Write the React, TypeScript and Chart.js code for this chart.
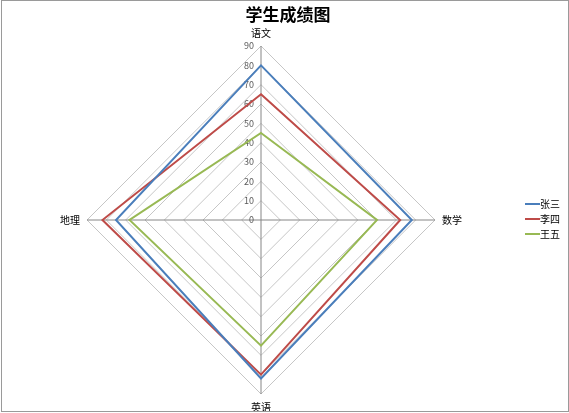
import React, { useEffect, useRef } from "react";
import { Chart, registerables } from "chart.js";

Chart.register(...registerables);

const chartTitle = "学生成绩图";
const subjects = ["语文", "数学", "英语", "地理"];
const seriesNames = ["张三", "李四", "王五"];
const zhangSan = [80, 78, 82, 75];
const liSi = [65, 72, 80, 82];
const wangWu = [45, 60, 65, 68];
const seriesColors = ["#4A7EBB", "#BE4B48", "#98B954"];
const tickValues = [0, 10, 20, 30, 40, 50, 60, 70, 80, 90];

const FONT = "'Noto Sans CJK SC', 'Noto Sans', sans-serif";

const tickLabelPlugin = {
  id: "tickLabels",
  beforeDatasetsDraw(chart: any) {
    const scale = chart.scales.r;
    const ctx = chart.ctx;
    ctx.save();
    ctx.font = `9px ${FONT}`;
    ctx.fillStyle = "#595959";
    ctx.textAlign = "right";
    ctx.textBaseline = "middle";
    tickValues.forEach((v) => {
      const d = scale.getDistanceFromCenterForValue(v);
      ctx.fillText(String(v), scale.xCenter - 7, scale.yCenter - d);
    });
    ctx.restore();
  },
};

const titleAndLegendPlugin = {
  id: "titleLegend",
  afterDraw(chart: any) {
    const ctx = chart.ctx;
    ctx.save();
    ctx.font = `bold 17px ${FONT}`;
    ctx.fillStyle = "#000";
    ctx.textAlign = "center";
    ctx.textBaseline = "middle";
    ctx.fillText(chartTitle, 288, 15);

    ctx.font = `10px ${FONT}`;
    ctx.textAlign = "left";
    chart.data.datasets.forEach((ds: any, i: number) => {
      const y = 204 + i * 15;
      ctx.strokeStyle = ds.borderColor;
      ctx.lineWidth = 2;
      ctx.beginPath();
      ctx.moveTo(525, y);
      ctx.lineTo(540, y);
      ctx.stroke();
      ctx.fillStyle = "#000";
      ctx.fillText(ds.label, 540, y);
    });
    ctx.restore();
  },
};

export default function App() {
  const ref = useRef<HTMLCanvasElement | null>(null);
  useEffect(() => {
    if (!ref.current) return;
    const data = [zhangSan, liSi, wangWu];
    const chart = new Chart(ref.current, {
      type: "radar",
      data: {
        labels: subjects,
        datasets: seriesNames.map((name, i) => ({
          label: name,
          data: data[i],
          borderColor: seriesColors[i],
          backgroundColor: "transparent",
          borderWidth: 2,
          pointRadius: 0,
          fill: false,
        })),
      },
      options: {
        responsive: false,
        animation: false,
        devicePixelRatio: 1,
        layout: { padding: { left: 0, right: 47, top: 27, bottom: 0 } },
        plugins: {
          legend: { display: false },
          tooltip: { enabled: false },
          title: { display: false },
        },
        scales: {
          r: {
            min: 0,
            max: 90,
            ticks: { stepSize: 10, display: false },
            grid: { color: "#C6C6C6", lineWidth: 1 },
            angleLines: { color: "#868686", lineWidth: 1 },
            pointLabels: {
              color: "#000",
              padding: 7,
              font: { family: FONT, size: 10 },
            },
          },
        },
      },
      plugins: [tickLabelPlugin, titleAndLegendPlugin],
    } as any);
    return () => chart.destroy();
  }, []);
  return (
    <div style={{ position: "fixed", left: 0, top: 0, width: 569, height: 413, background: "#fff" }}>
      <canvas ref={ref} width={569} height={413} style={{ position: "absolute", left: 0, top: 0 }} />
      <div
        style={{
          position: "absolute",
          left: 1,
          top: 0,
          width: 568,
          height: 412,
          boxSizing: "border-box",
          border: "1px solid #9a9a9a",
          pointerEvents: "none",
        }}
      />
    </div>
  );
}
